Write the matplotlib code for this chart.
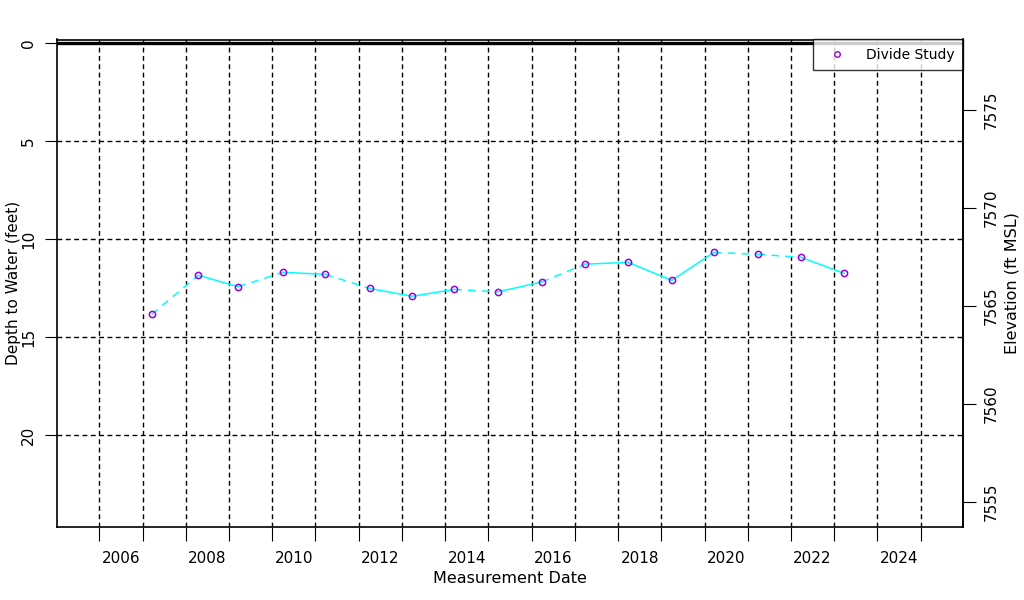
import matplotlib
matplotlib.use('Agg')
import matplotlib.pyplot as plt
from matplotlib.lines import Line2D

# measurement dates (decimal years) and depth to water (feet)
dates = [2007.21, 2008.29, 2009.21, 2010.25, 2011.23, 2012.25, 2013.24, 2014.21,
         2015.23, 2016.23, 2017.24, 2018.24, 2019.24, 2020.22, 2021.23, 2022.23,
         2023.23]
depth = [13.84, 11.85, 12.43, 11.70, 11.80, 12.52, 12.92, 12.57,
         12.69, 12.19, 11.28, 11.19, 12.11, 10.68, 10.78, 10.93,
         11.75]
land_surface = 7578.4
year_labels = [2006, 2008, 2010, 2012, 2014, 2016, 2018, 2020, 2022, 2024]
grid_years = list(range(2006, 2026))
depth_ticks = [0, 5, 10, 15, 20]
elev_ticks = [7555, 7560, 7565, 7570, 7575]
series_name = 'Divide Study'

# segment line styles as drawn in the original
seg_styles = ['--', '-', '--', '-', '--', '-', '-', '--', '-', '--', '-', '-', '-', '--', '--', '-']

plt.rcParams['font.family'] = 'DejaVu Sans'
fig = plt.figure(figsize=(10.24, 6), dpi=100)
ax = fig.add_axes([57/1024, 1 - 527/600, (963 - 57)/1024, (527 - 39.5)/600])

xlim = (2005.02, 2025.98)
ylim = (24.69, -0.18)
ax.set_xlim(xlim)
ax.set_ylim(ylim)

# grid
for yr in grid_years:
    ax.axvline(yr, color='black', lw=1.0, ls=(0, (3.5, 2.5)), zorder=1)
for d in depth_ticks[1:]:
    ax.axhline(d, color='black', lw=1.0, ls=(0, (3.5, 2.5)), zorder=1)
ax.axhline(0, color='black', lw=2.4, zorder=2)

# data line, segment by segment
for i in range(len(dates) - 1):
    ax.plot(dates[i:i+2], depth[i:i+2], color='#00ffff', lw=1.1,
            ls=(0, (5, 4)) if seg_styles[i] == '--' else '-', zorder=3)
ax.plot(dates, depth, ls='none', marker='o', ms=4.5, mfc='none',
        mec='#9900dd', mew=1.1, zorder=4)

# x axis: labels mid-year, ticks at year boundaries
ax.set_xticks([y + 0.5 for y in year_labels])
ax.set_xticklabels([str(y) for y in year_labels], fontsize=11)
ax.set_xticks(grid_years, minor=True)
ax.tick_params(axis='x', which='major', length=0, pad=17)
ax.tick_params(axis='x', which='minor', length=10, width=0.8, direction='out')
ax.set_xlabel('Measurement Date', fontsize=11.5, labelpad=4)

ax.set_yticks(depth_ticks)
ax.set_yticklabels([str(d) for d in depth_ticks], fontsize=11, rotation=90, va='center')
ax.tick_params(axis='y', length=9, width=0.8, pad=6)
ax.set_ylabel('Depth to Water (feet)', fontsize=11)
ax.yaxis.set_label_coords(-0.04, 0.5)

for s in ax.spines.values():
    s.set_linewidth(1.2)

ax2 = ax.twinx()
ax2.set_ylim(land_surface - ylim[0], land_surface - ylim[1])
ax2.set_yticks(elev_ticks)
ax2.set_yticklabels([str(e) for e in elev_ticks], fontsize=11, rotation=90, va='center')
ax2.tick_params(axis='y', length=9, width=0.8, pad=6)
ax2.set_ylabel('Elevation (ft MSL)', fontsize=11.5, labelpad=4)
for s in ax2.spines.values():
    s.set_visible(False)
ax2.spines['right'].set_visible(True)
ax2.spines['right'].set_linewidth(1.2)

handle = Line2D([], [], ls='none', marker='o', ms=4, mfc='none', mec='#9900dd', mew=1.0)
leg = ax.legend([handle], [series_name], loc='upper right', fontsize=10,
                frameon=True, fancybox=False, borderaxespad=0, handlelength=2.2,
                handletextpad=1.0, borderpad=0.6)
leg.get_frame().set_edgecolor('black')
leg.get_frame().set_linewidth(1.0)
leg.set_zorder(10)

fig.savefig('out.png', dpi=100)
